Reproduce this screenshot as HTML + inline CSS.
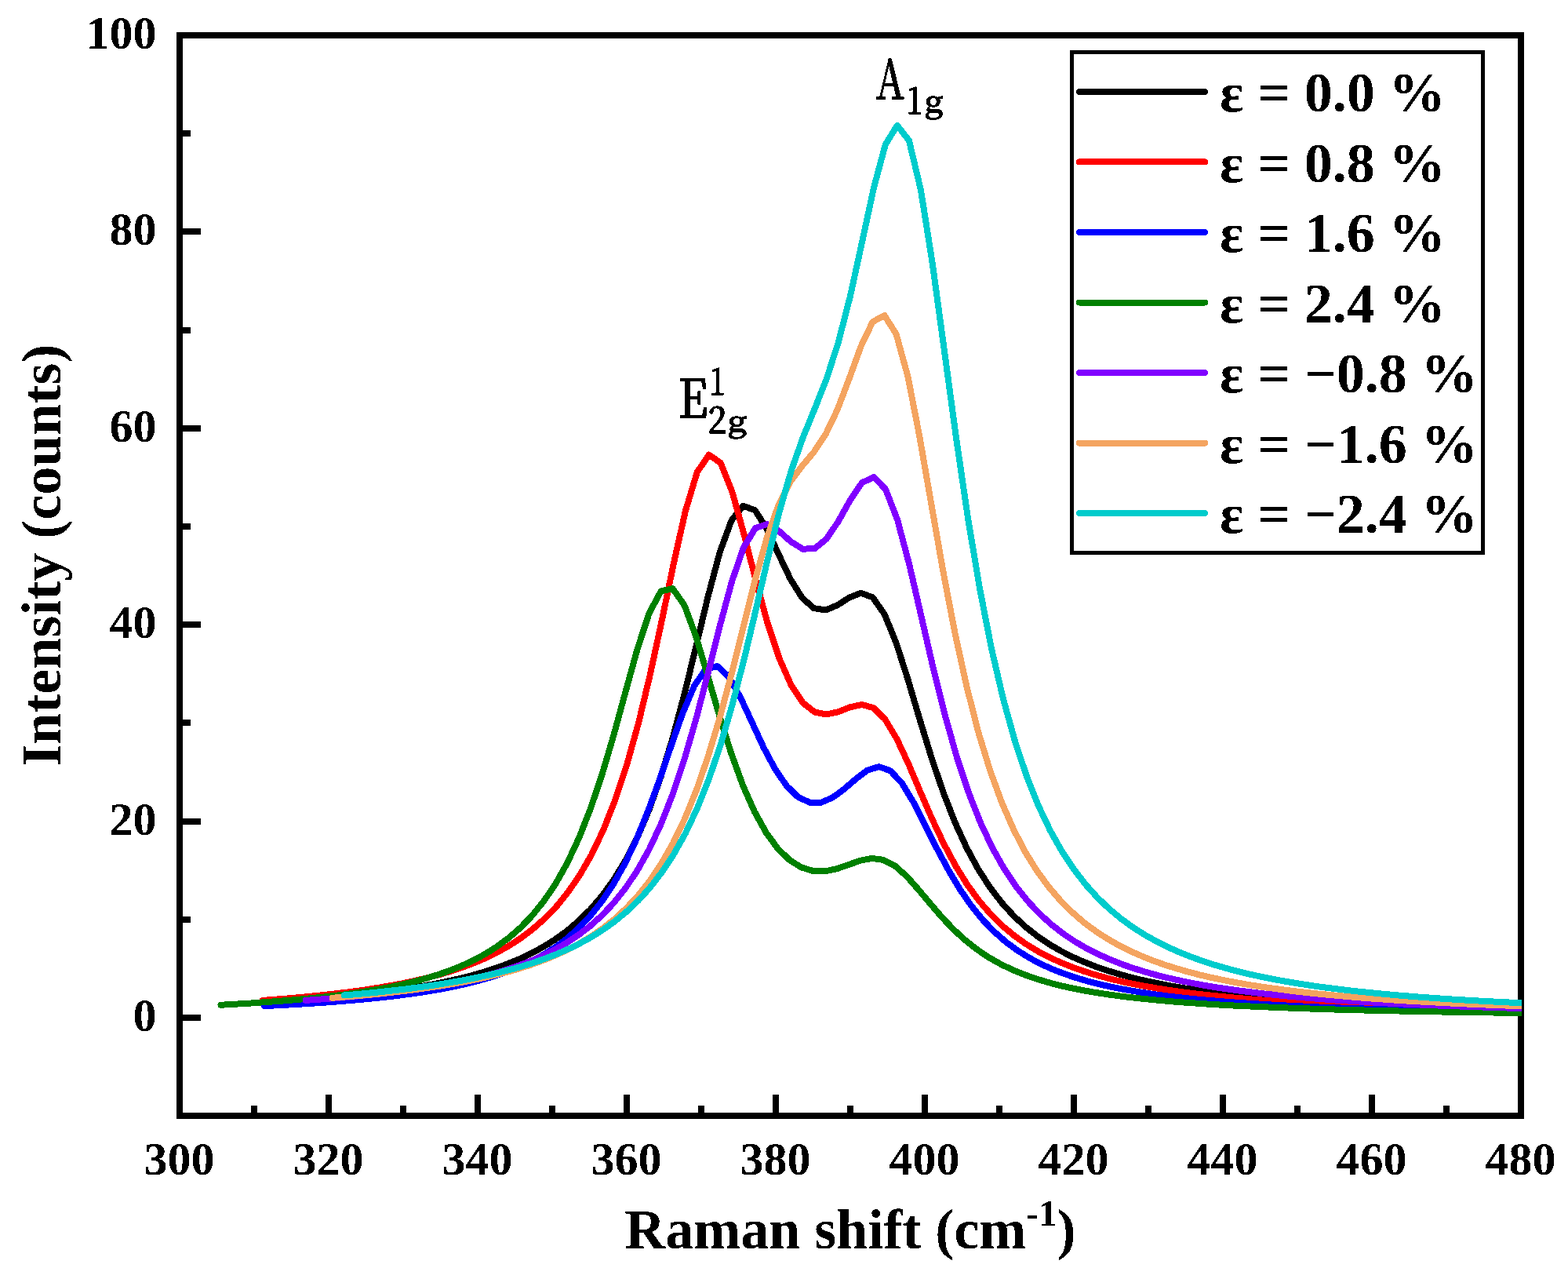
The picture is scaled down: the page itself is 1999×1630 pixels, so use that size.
<!DOCTYPE html>
<html lang="en"><head><meta charset="utf-8"><title>Raman spectra under strain</title>
<style>
html,body{margin:0;padding:0;background:#fff;}
body{width:1999px;height:1630px;overflow:hidden;}
svg{display:block;}
text{font-family:"Liberation Serif","Times New Roman",serif;font-weight:bold;fill:#000;}
.tk{font-size:60px;}
.ttl{font-size:72px;}
.lg{font-size:72px;}
.ann{font-family:"Noto Serif CJK SC","Liberation Serif",serif;font-weight:500;stroke:#000;stroke-width:1.4px;stroke-linejoin:round;}
</style></head><body>
<svg width="1999" height="1630" viewBox="0 0 1999 1630">
<rect x="0" y="0" width="1999" height="1630" fill="#fff"/>
<defs><clipPath id="pc"><rect x="229" y="45" width="1711" height="1377"/></clipPath><filter id="bin" x="-5%" y="-5%" width="110%" height="110%" color-interpolation-filters="sRGB"><feComponentTransfer><feFuncA type="discrete" tableValues="0 1"/></feComponentTransfer></filter></defs>
<g shape-rendering="crispEdges" stroke="#000" fill="none">
<rect x="229" y="45" width="1710" height="1377" stroke-width="8"/>
<path d="M324.0 1422V1409 M419.0 1422V1395 M514.0 1422V1409 M609.0 1422V1395 M704.0 1422V1409 M799.0 1422V1395 M894.0 1422V1409 M989.0 1422V1395 M1084.0 1422V1409 M1179.0 1422V1395 M1274.0 1422V1409 M1369.0 1422V1395 M1464.0 1422V1409 M1559.0 1422V1395 M1654.0 1422V1409 M1749.0 1422V1395 M1844.0 1422V1409 M229 1297.0H256 M229 1171.8H243 M229 1046.6H256 M229 921.4H243 M229 796.2H256 M229 671.0H243 M229 545.8H256 M229 420.6H243 M229 295.4H256 M229 170.2H243" stroke-width="8"/>
</g>
<g clip-path="url(#pc)" fill="none" stroke-linecap="round" stroke-linejoin="round" stroke-width="8" shape-rendering="crispEdges">
<polyline points="362.0,1276.0 377.9,1274.9 392.9,1273.8 407.9,1272.6 422.9,1271.3 437.9,1269.9 452.9,1268.4 467.9,1266.8 482.9,1265.0 497.8,1263.1 512.8,1260.9 527.8,1258.6 542.8,1256.1 557.8,1253.2 572.8,1250.1 587.8,1246.7 602.8,1242.8 617.8,1238.5 632.8,1233.6 647.8,1228.1 662.8,1221.9 677.7,1214.8 692.7,1206.7 707.7,1197.3 722.7,1186.5 737.7,1173.8 752.7,1159.0 767.7,1141.6 782.7,1120.8 797.7,1096.2 812.7,1066.7 827.7,1031.5 842.6,989.7 857.6,940.6 872.6,884.4 887.6,822.9 902.6,760.3 917.6,704.0 932.6,663.1 947.6,644.8 962.6,650.3 977.6,674.0 992.6,706.3 1007.5,737.7 1022.5,761.7 1037.5,775.1 1052.5,777.5 1067.5,771.3 1082.5,761.7 1097.5,755.8 1112.5,761.2 1127.5,782.6 1142.5,819.2 1157.5,866.0 1172.4,916.4 1187.4,965.2 1202.4,1009.4 1217.4,1047.9 1232.4,1080.6 1247.4,1108.2 1262.4,1131.4 1277.4,1150.9 1292.4,1167.3 1307.4,1181.2 1322.4,1193.0 1337.3,1203.2 1352.3,1211.9 1367.3,1219.5 1382.3,1226.1 1397.3,1232.0 1412.3,1237.1 1427.3,1241.6 1442.3,1245.7 1457.3,1249.3 1472.3,1252.5 1487.3,1255.5 1502.2,1258.1 1517.2,1260.5 1532.2,1262.7 1547.2,1264.7 1562.2,1266.5 1577.2,1268.1 1592.2,1269.7 1607.2,1271.1 1622.2,1272.4 1637.2,1273.6 1652.2,1274.7 1667.1,1275.8 1682.1,1276.7 1697.1,1277.6 1712.1,1278.5 1727.1,1279.3 1742.1,1280.0 1757.1,1280.7 1772.1,1281.4 1787.1,1282.0 1802.1,1282.6 1817.1,1283.1 1832.0,1283.6 1847.0,1284.1 1862.0,1284.6 1877.0,1285.0 1892.0,1285.4 1907.0,1285.8 1922.0,1286.2 1937.0,1286.5 1952.0,1286.9 1967.0,1287.2" stroke="#000000"/>
<polyline points="334.9,1274.9 349.9,1273.8 364.9,1272.6 379.8,1271.3 394.8,1269.9 409.8,1268.4 424.7,1266.7 439.7,1264.9 454.7,1263.0 469.7,1260.8 484.6,1258.4 499.6,1255.8 514.6,1253.0 529.5,1249.8 544.5,1246.2 559.5,1242.3 574.4,1237.8 589.4,1232.9 604.4,1227.2 619.4,1220.8 634.3,1213.5 649.3,1205.1 664.3,1195.4 679.2,1184.1 694.2,1170.9 709.2,1155.5 724.1,1137.1 739.1,1115.3 754.1,1089.3 769.1,1057.9 784.0,1020.3 799.0,975.1 814.0,921.6 828.9,859.4 843.9,790.1 858.9,718.0 873.8,651.4 888.8,601.7 903.8,579.7 918.8,590.0 933.7,627.7 948.7,681.7 963.7,740.2 978.6,794.4 993.6,839.3 1008.6,873.1 1023.5,895.6 1038.5,907.5 1053.5,910.5 1068.5,907.2 1083.4,901.4 1098.4,898.0 1113.4,902.0 1128.3,916.6 1143.3,941.6 1158.3,973.8 1173.2,1009.0 1188.2,1043.5 1203.2,1075.3 1218.2,1103.3 1233.1,1127.4 1248.1,1147.9 1263.1,1165.3 1278.0,1180.0 1293.0,1192.4 1308.0,1203.1 1322.9,1212.2 1337.9,1220.1 1352.9,1226.9 1367.9,1232.9 1382.8,1238.1 1397.8,1242.7 1412.8,1246.8 1427.7,1250.4 1442.7,1253.6 1457.7,1256.5 1472.6,1259.1 1487.6,1261.5 1502.6,1263.7 1517.6,1265.6 1532.5,1267.4 1547.5,1269.0 1562.5,1270.5 1577.4,1271.9 1592.4,1273.2 1607.4,1274.4 1622.3,1275.5 1637.3,1276.5 1652.3,1277.4 1667.3,1278.3 1682.2,1279.1 1697.2,1279.9 1712.2,1280.6 1727.1,1281.3 1742.1,1281.9 1757.1,1282.5 1772.1,1283.0 1787.0,1283.6 1802.0,1284.1 1817.0,1284.5 1831.9,1285.0 1846.9,1285.4 1861.9,1285.8 1876.8,1286.2 1891.8,1286.5 1906.8,1286.9 1921.8,1287.2 1936.7,1287.5 1951.7,1287.8 1966.7,1288.1" stroke="#FF0000"/>
<polyline points="336.9,1282.1 340.8,1281.9 355.5,1281.2 370.2,1280.4 384.9,1279.5 399.6,1278.6 414.3,1277.6 429.0,1276.5 443.7,1275.3 458.5,1274.0 473.2,1272.6 487.9,1271.1 502.6,1269.4 517.3,1267.5 532.0,1265.5 546.7,1263.2 561.4,1260.7 576.2,1257.8 590.9,1254.6 605.6,1251.1 620.3,1247.0 635.0,1242.4 649.7,1237.2 664.4,1231.2 679.1,1224.2 693.8,1216.2 708.6,1206.7 723.3,1195.7 738.0,1182.6 752.7,1167.1 767.4,1148.6 782.1,1126.6 796.8,1100.4 811.5,1069.5 826.2,1033.6 841.0,993.3 855.7,950.4 870.4,908.8 885.1,874.1 899.8,852.8 914.5,849.0 929.2,862.5 943.9,888.6 958.7,920.6 973.4,952.4 988.1,980.1 1002.8,1001.5 1017.5,1015.8 1032.2,1022.7 1046.9,1022.7 1061.6,1016.4 1076.3,1005.6 1091.1,992.7 1105.8,981.7 1120.5,977.1 1135.2,982.3 1149.9,998.2 1164.6,1022.5 1179.3,1051.2 1194.0,1080.6 1208.8,1108.2 1223.5,1132.9 1238.2,1154.2 1252.9,1172.3 1267.6,1187.5 1282.3,1200.4 1297.0,1211.2 1311.7,1220.4 1326.4,1228.3 1341.2,1235.0 1355.9,1240.7 1370.6,1245.7 1385.3,1250.1 1400.0,1253.9 1414.7,1257.3 1429.4,1260.3 1444.1,1262.9 1458.9,1265.3 1473.6,1267.5 1488.3,1269.4 1503.0,1271.1 1517.7,1272.7 1532.4,1274.1 1547.1,1275.4 1561.8,1276.6 1576.5,1277.7 1591.3,1278.7 1606.0,1279.6 1620.7,1280.5 1635.4,1281.3 1650.1,1282.0 1664.8,1282.7 1679.5,1283.4 1694.2,1284.0 1709.0,1284.5 1723.7,1285.0 1738.4,1285.5 1753.1,1286.0 1767.8,1286.4 1782.5,1286.8 1797.2,1287.2 1811.9,1287.6 1826.6,1287.9 1841.4,1288.3 1856.1,1288.6 1870.8,1288.8 1885.5,1289.1 1900.2,1289.4 1914.9,1289.6 1929.6,1289.9 1944.3,1290.1 1959.1,1290.3" stroke="#0000FF"/>
<polyline points="281.5,1280.7 290.0,1280.3 305.0,1279.4 319.9,1278.5 334.8,1277.4 349.8,1276.3 364.7,1275.2 379.6,1273.9 394.6,1272.4 409.5,1270.9 424.4,1269.2 439.4,1267.3 454.3,1265.2 469.2,1262.9 484.2,1260.4 499.1,1257.5 514.0,1254.3 529.0,1250.7 543.9,1246.7 558.8,1242.0 573.8,1236.8 588.7,1230.8 603.6,1223.8 618.6,1215.8 633.5,1206.4 648.4,1195.4 663.4,1182.4 678.3,1167.0 693.2,1148.6 708.2,1126.5 723.1,1100.0 738.0,1068.2 753.0,1030.3 767.9,985.9 782.9,935.2 797.8,880.6 812.7,826.7 827.7,781.3 842.6,753.5 857.5,750.0 872.5,771.3 887.4,811.5 902.3,861.3 917.3,912.6 932.2,960.1 947.1,1001.1 962.1,1034.8 977.0,1061.6 991.9,1081.8 1006.9,1096.3 1021.8,1105.5 1036.7,1110.0 1051.7,1110.4 1066.6,1107.3 1081.5,1102.2 1096.5,1096.8 1111.4,1093.9 1126.3,1095.9 1141.3,1103.8 1156.2,1117.1 1171.1,1133.9 1186.1,1151.8 1201.0,1169.1 1215.9,1184.8 1230.9,1198.5 1245.8,1210.2 1260.7,1220.2 1275.7,1228.7 1290.6,1235.9 1305.5,1242.0 1320.5,1247.2 1335.4,1251.8 1350.3,1255.7 1365.3,1259.1 1380.2,1262.1 1395.1,1264.7 1410.1,1267.0 1425.0,1269.1 1439.9,1271.0 1454.9,1272.6 1469.8,1274.1 1484.7,1275.5 1499.7,1276.8 1514.6,1277.9 1529.6,1278.9 1544.5,1279.9 1559.4,1280.8 1574.4,1281.6 1589.3,1282.3 1604.2,1283.0 1619.2,1283.6 1634.1,1284.2 1649.0,1284.8 1664.0,1285.3 1678.9,1285.8 1693.8,1286.3 1708.8,1286.7 1723.7,1287.1 1738.6,1287.5 1753.6,1287.8 1768.5,1288.2 1783.4,1288.5 1798.4,1288.8 1813.3,1289.1 1828.2,1289.3 1843.2,1289.6 1858.1,1289.8 1873.0,1290.1 1888.0,1290.3 1902.9,1290.5 1917.8,1290.7 1932.8,1290.9 1947.7,1291.1 1962.6,1291.2" stroke="#008000"/>
<polyline points="389.7,1274.9 404.8,1273.8 419.9,1272.7 435.0,1271.4 450.1,1270.1 465.2,1268.6 480.3,1267.1 495.4,1265.3 510.5,1263.5 525.6,1261.5 540.6,1259.2 555.7,1256.8 570.8,1254.1 585.9,1251.2 601.0,1247.9 616.1,1244.3 631.2,1240.2 646.3,1235.7 661.4,1230.5 676.4,1224.8 691.5,1218.2 706.6,1210.7 721.7,1202.1 736.8,1192.1 751.9,1180.5 767.0,1167.0 782.1,1151.1 797.2,1132.2 812.2,1109.8 827.3,1083.0 842.4,1050.9 857.5,1012.6 872.6,967.4 887.7,915.2 902.8,857.2 917.9,797.1 933.0,741.2 948.0,697.7 963.1,673.0 978.2,668.0 993.3,677.0 1008.4,690.4 1023.5,699.7 1038.6,699.1 1053.7,686.8 1068.8,664.4 1083.8,637.5 1098.9,615.2 1114.0,608.0 1129.1,623.6 1144.2,662.8 1159.3,719.7 1174.4,785.0 1189.5,850.4 1204.6,910.9 1219.6,964.1 1234.7,1009.6 1249.8,1048.0 1264.9,1080.1 1280.0,1106.9 1295.1,1129.4 1310.2,1148.4 1325.3,1164.5 1340.4,1178.2 1355.4,1189.9 1370.5,1200.0 1385.6,1208.8 1400.7,1216.4 1415.8,1223.1 1430.9,1229.1 1446.0,1234.3 1461.1,1238.9 1476.2,1243.1 1491.2,1246.8 1506.3,1250.2 1521.4,1253.2 1536.5,1256.0 1551.6,1258.5 1566.7,1260.7 1581.8,1262.8 1596.9,1264.7 1612.0,1266.5 1627.0,1268.1 1642.1,1269.6 1657.2,1270.9 1672.3,1272.2 1687.4,1273.4 1702.5,1274.5 1717.6,1275.5 1732.7,1276.5 1747.8,1277.4 1762.8,1278.2 1777.9,1279.0 1793.0,1279.7 1808.1,1280.4 1823.2,1281.1 1838.3,1281.7 1853.4,1282.2 1868.5,1282.8 1883.6,1283.3 1898.6,1283.8 1913.7,1284.3 1928.8,1284.7 1943.9,1285.1 1959.0,1285.5" stroke="#8000FF"/>
<polyline points="423.6,1271.8 438.5,1270.6 453.5,1269.4 468.5,1268.0 483.5,1266.5 498.4,1264.9 513.4,1263.1 528.4,1261.3 543.4,1259.2 558.4,1257.0 573.3,1254.6 588.3,1251.9 603.3,1249.0 618.3,1245.8 633.2,1242.2 648.2,1238.3 663.2,1234.0 678.2,1229.1 693.2,1223.6 708.1,1217.5 723.1,1210.6 738.1,1202.7 753.1,1193.8 768.0,1183.5 783.0,1171.7 798.0,1157.9 813.0,1141.9 828.0,1123.1 842.9,1100.9 857.9,1074.7 872.9,1043.6 887.9,1006.9 902.8,963.7 917.8,913.9 932.8,858.0 947.8,798.1 962.8,738.6 977.7,685.2 992.7,643.1 1007.7,613.8 1022.7,593.8 1037.6,576.1 1052.6,553.5 1067.6,522.1 1082.6,482.6 1097.6,441.4 1112.5,410.2 1127.5,402.0 1142.5,425.5 1157.5,480.2 1172.4,556.8 1187.4,643.0 1202.4,728.3 1217.4,806.5 1232.4,874.9 1247.3,933.2 1262.3,982.2 1277.3,1023.1 1292.3,1057.4 1307.2,1086.1 1322.2,1110.2 1337.2,1130.6 1352.2,1148.0 1367.2,1162.9 1382.1,1175.8 1397.1,1186.9 1412.1,1196.6 1427.1,1205.1 1442.0,1212.5 1457.0,1219.1 1472.0,1225.0 1487.0,1230.3 1502.0,1234.9 1516.9,1239.2 1531.9,1243.0 1546.9,1246.4 1561.9,1249.5 1576.8,1252.4 1591.8,1255.0 1606.8,1257.4 1621.8,1259.5 1636.8,1261.5 1651.7,1263.4 1666.7,1265.1 1681.7,1266.7 1696.7,1268.1 1711.6,1269.5 1726.6,1270.8 1741.6,1272.0 1756.6,1273.1 1771.6,1274.1 1786.5,1275.1 1801.5,1276.0 1816.5,1276.8 1831.5,1277.6 1846.4,1278.4 1861.4,1279.1 1876.4,1279.8 1891.4,1280.4 1906.4,1281.0 1921.3,1281.6 1936.3,1282.1 1951.3,1282.6 1966.3,1283.1" stroke="#F4A460"/>
<polyline points="438.7,1268.5 453.7,1267.2 468.7,1265.8 483.7,1264.3 498.7,1262.6 513.7,1260.9 528.7,1259.0 543.7,1256.9 558.7,1254.7 573.7,1252.2 588.7,1249.6 603.7,1246.7 618.7,1243.5 633.7,1240.1 648.7,1236.3 663.7,1232.1 678.7,1227.4 693.7,1222.2 708.7,1216.4 723.7,1209.9 738.7,1202.6 753.7,1194.3 768.7,1184.9 783.7,1174.2 798.8,1161.8 813.8,1147.6 828.8,1131.0 843.8,1111.6 858.8,1088.9 873.8,1062.1 888.8,1030.3 903.8,992.8 918.8,948.7 933.8,897.5 948.8,839.5 963.8,776.5 978.8,712.2 993.8,651.7 1008.8,599.7 1023.8,557.3 1038.8,520.6 1053.8,482.7 1068.8,436.3 1083.8,378.0 1098.8,309.6 1113.8,240.0 1128.8,184.2 1143.9,159.8 1158.9,179.1 1173.9,242.0 1188.9,336.8 1203.9,446.7 1218.9,557.3 1233.9,659.6 1248.9,749.4 1263.9,826.1 1278.9,890.5 1293.9,944.4 1308.9,989.3 1323.9,1026.9 1338.9,1058.5 1353.9,1085.1 1368.9,1107.7 1383.9,1127.1 1398.9,1143.7 1413.9,1158.1 1428.9,1170.6 1443.9,1181.5 1458.9,1191.1 1473.9,1199.5 1488.9,1207.0 1504.0,1213.7 1519.0,1219.7 1534.0,1225.0 1549.0,1229.9 1564.0,1234.2 1579.0,1238.2 1594.0,1241.8 1609.0,1245.0 1624.0,1248.0 1639.0,1250.8 1654.0,1253.3 1669.0,1255.6 1684.0,1257.8 1699.0,1259.7 1714.0,1261.6 1729.0,1263.3 1744.0,1264.8 1759.0,1266.3 1774.0,1267.7 1789.0,1269.0 1804.0,1270.2 1819.0,1271.3 1834.0,1272.4 1849.1,1273.4 1864.1,1274.3 1879.1,1275.2 1894.1,1276.0 1909.1,1276.8 1924.1,1277.5 1939.1,1278.2 1954.1,1278.9 1969.1,1279.5" stroke="#00CCCC"/>
</g>
<g shape-rendering="crispEdges">
<rect x="1366.5" y="66.5" width="524" height="637.5" fill="#fff" stroke="#000" stroke-width="5"/>
<line x1="1376" y1="116.9" x2="1536" y2="116.9" stroke="#000000" stroke-width="8" stroke-linecap="round"/>
<line x1="1376" y1="206.4" x2="1536" y2="206.4" stroke="#FF0000" stroke-width="8" stroke-linecap="round"/>
<line x1="1376" y1="296.0" x2="1536" y2="296.0" stroke="#0000FF" stroke-width="8" stroke-linecap="round"/>
<line x1="1376" y1="385.5" x2="1536" y2="385.5" stroke="#008000" stroke-width="8" stroke-linecap="round"/>
<line x1="1376" y1="475.1" x2="1536" y2="475.1" stroke="#8000FF" stroke-width="8" stroke-linecap="round"/>
<line x1="1376" y1="564.6" x2="1536" y2="564.6" stroke="#F4A460" stroke-width="8" stroke-linecap="round"/>
<line x1="1376" y1="654.2" x2="1536" y2="654.2" stroke="#00CCCC" stroke-width="8" stroke-linecap="round"/>
</g>
<g filter="url(#bin)">
<text class="lg" x="1555" y="142.3">ε = 0.0 %</text>
<text class="lg" x="1555" y="231.8">ε = 0.8 %</text>
<text class="lg" x="1555" y="321.2">ε = 1.6 %</text>
<text class="lg" x="1555" y="410.7">ε = 2.4 %</text>
<text class="lg" x="1555" y="500.1">ε = −0.8 %</text>
<text class="lg" x="1555" y="589.5">ε = −1.6 %</text>
<text class="lg" x="1555" y="679.0">ε = −2.4 %</text>
<text class="tk" x="228.5" y="1497" text-anchor="middle">300</text>
<text class="tk" x="418.5" y="1497" text-anchor="middle">320</text>
<text class="tk" x="608.5" y="1497" text-anchor="middle">340</text>
<text class="tk" x="798.5" y="1497" text-anchor="middle">360</text>
<text class="tk" x="988.5" y="1497" text-anchor="middle">380</text>
<text class="tk" x="1178.5" y="1497" text-anchor="middle">400</text>
<text class="tk" x="1368.5" y="1497" text-anchor="middle">420</text>
<text class="tk" x="1558.5" y="1497" text-anchor="middle">440</text>
<text class="tk" x="1748.5" y="1497" text-anchor="middle">460</text>
<text class="tk" x="1938.5" y="1497" text-anchor="middle">480</text>
<text class="tk" x="199.6" y="1314.0" text-anchor="end">0</text>
<text class="tk" x="199.6" y="1063.6" text-anchor="end">20</text>
<text class="tk" x="199.6" y="813.2" text-anchor="end">40</text>
<text class="tk" x="199.6" y="562.8" text-anchor="end">60</text>
<text class="tk" x="199.6" y="312.4" text-anchor="end">80</text>
<text class="tk" x="199.6" y="62.0" text-anchor="end">100</text>
<text class="ttl" x="796.3" y="1591">Raman shift (cm<tspan font-size="47" dy="-29">-1</tspan><tspan dy="29">)</tspan></text>
<text class="ttl" transform="translate(77,976.6) rotate(-90)">Intensity (counts)</text>
<text class="ann"><tspan x="1117.0" y="126.2" font-size="68.7" textLength="35.6" lengthAdjust="spacingAndGlyphs">A</tspan><tspan x="1155.7" y="145.1" font-size="46.7" textLength="20.2" lengthAdjust="spacingAndGlyphs">1</tspan><tspan x="1178.9" y="143.3" font-size="38.1" textLength="23.6" lengthAdjust="spacingAndGlyphs">g</tspan></text>
<text class="ann"><tspan x="864.8" y="532.2" font-size="66.4" textLength="37.9" lengthAdjust="spacingAndGlyphs">E</tspan><tspan x="904.6" y="503.2" font-size="46.9" textLength="20.2" lengthAdjust="spacingAndGlyphs">1</tspan><tspan x="902.4" y="552.2" font-size="46.8" textLength="23.9" lengthAdjust="spacingAndGlyphs">2</tspan><tspan x="928.0" y="549.6" font-size="37.0" textLength="24.4" lengthAdjust="spacingAndGlyphs">g</tspan></text>
</g>
</svg></body></html>
